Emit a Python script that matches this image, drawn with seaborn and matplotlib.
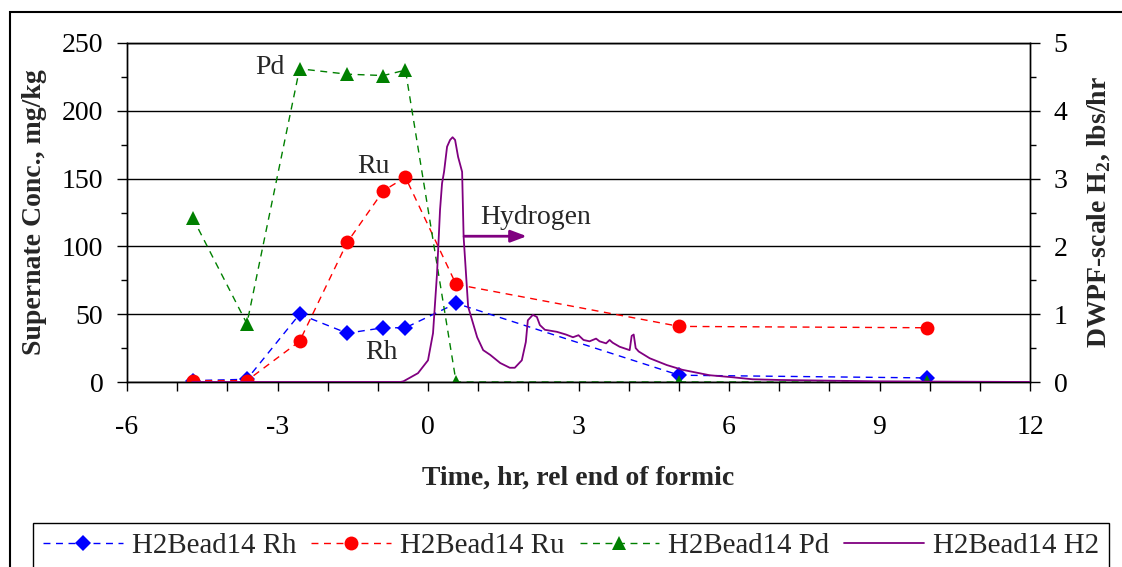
import matplotlib
matplotlib.use("Agg")
import matplotlib.pyplot as plt
from matplotlib.patches import Rectangle
from matplotlib.ticker import MultipleLocator, FuncFormatter
import seaborn as sns
import pandas as pd

# Sample times (hr, relative to end of formic addition)
sample_time = [-4.69, -3.61, -2.56, -1.61, -0.89, -0.45, 0.56, 5.01, 9.94]

# Supernate concentrations, mg/kg
rh_conc = [1, 2, 50, 36, 40, 40, 58, 5, 3]
ru_conc = [1, 1, 30, 103, 141, 151, 72, 41, 40]
pd_conc = [121, 43, 231, 227, 226, 230, 0, 0, 0]

# Off-gas hydrogen generation, lbs/hr
h2_time = [-4.70, -0.55, -0.49, -0.20, 0.00, 0.10, 0.18, 0.24, 0.28, 0.32, 0.38,
           0.44, 0.49, 0.54, 0.60, 0.68, 0.71, 0.80, 0.98, 1.10, 1.24, 1.44, 1.63,
           1.73, 1.87, 1.95, 1.99, 2.09, 2.17, 2.23, 2.33, 2.57, 2.75, 2.89, 3.00,
           3.10, 3.22, 3.35, 3.42, 3.55, 3.62, 3.68, 3.82, 4.02, 4.06, 4.10, 4.14,
           4.20, 4.42, 4.76, 5.07, 5.61, 6.07, 6.47, 7.00, 8.93, 12.0]
h2_rate = [0.0, 0.0, 0.01, 0.13, 0.32, 0.72, 1.60, 2.54, 2.93, 3.10, 3.47,
           3.57, 3.61, 3.57, 3.32, 3.10, 2.14, 1.11, 0.66, 0.47, 0.40, 0.28, 0.21,
           0.21, 0.32, 0.59, 0.91, 0.99, 0.96, 0.84, 0.77, 0.74, 0.70, 0.66, 0.69,
           0.62, 0.60, 0.64, 0.60, 0.57, 0.62, 0.58, 0.52, 0.47, 0.68, 0.70, 0.50,
           0.45, 0.35, 0.25, 0.18, 0.10, 0.07, 0.04, 0.03, 0.01, 0.0]

series_labels = ["H2Bead14 Rh", "H2Bead14 Ru", "H2Bead14 Pd", "H2Bead14 H2"]

sns.set_theme(style="ticks")
plt.rcParams["font.family"] = ["Liberation Serif", "DejaVu Serif"]
plt.rcParams["mathtext.fontset"] = "custom"
plt.rcParams["mathtext.rm"] = "Liberation Serif"
plt.rcParams["mathtext.bf"] = "Liberation Serif:bold"

FS = 20
LEG_FS = 20.8
fig = plt.figure(figsize=(11.22, 5.67), dpi=100)
ax = fig.add_axes([127 / 1122, 1 - 382 / 567, 903 / 1122, 339 / 567])
ax2 = ax.twinx()

conc = pd.DataFrame({"t": sample_time, "Rh": rh_conc, "Ru": ru_conc, "Pd": pd_conc})
h2 = pd.DataFrame({"t": h2_time, "H2": h2_rate})

dash = (5, 4)
sns.lineplot(data=conc, x="t", y="Rh", ax=ax, color="#0000FF", marker="D",
             markersize=8, markeredgewidth=0, linewidth=1, dashes=False,
             linestyle=(0, dash), label=series_labels[0], zorder=3)
sns.lineplot(data=conc, x="t", y="Ru", ax=ax, color="#FF0000", marker="o",
             markersize=10, markeredgewidth=0, linewidth=1, dashes=False,
             linestyle=(0, dash), label=series_labels[1], zorder=3)
sns.lineplot(data=conc, x="t", y="Pd", ax=ax, color="#008000", marker="^",
             markersize=10, markeredgewidth=0, linewidth=1, dashes=False,
             linestyle=(0, dash), label=series_labels[2], zorder=3)
sns.lineplot(data=h2, x="t", y="H2", ax=ax2, color="#800080", linewidth=1.3,
             label=series_labels[3], zorder=3)

handles, labels = ax.get_legend_handles_labels()
h2h, h2l = ax2.get_legend_handles_labels()
handles += h2h
labels += h2l
for a in (ax, ax2):
    if a.get_legend() is not None:
        a.get_legend().remove()

# Axes limits and ticks
ax.set_xlim(-6, 12)
ax.set_ylim(0, 250)
ax2.set_ylim(0, 5)
ax.xaxis.set_major_locator(MultipleLocator(1))
ax.xaxis.set_major_formatter(FuncFormatter(lambda v, p: f"{int(round(v))}" if round(v) % 3 == 0 else ""))
ax.yaxis.set_major_locator(MultipleLocator(50))
ax.yaxis.set_minor_locator(MultipleLocator(25))
ax2.yaxis.set_major_locator(MultipleLocator(1))
ax2.yaxis.set_minor_locator(MultipleLocator(0.5))

ax.grid(axis="y", which="major", color="black", linewidth=1)
ax.set_axisbelow(True)

ax.tick_params(axis="x", which="major", direction="out", length=6.5, width=1,
               labelsize=FS, pad=17, color="black", labelcolor="black")
ax.tick_params(axis="y", which="major", direction="out", length=7, width=1,
               labelsize=FS, pad=10, color="black", labelcolor="black")
ax.tick_params(axis="y", which="minor", direction="out", length=4.5, width=1,
               left=True, color="black")
ax2.tick_params(axis="y", which="major", direction="out", length=7, width=1,
                labelsize=FS, pad=10, color="black", labelcolor="black")
ax2.tick_params(axis="y", which="minor", direction="out", length=4.5, width=1,
                right=True, color="black")

for a in (ax, ax2):
    for s in a.spines.values():
        s.set_color("black")
        s.set_linewidth(1)

ax.set_xlabel("Time, hr, rel end of formic", fontsize=FS, fontweight="bold")
ax.set_ylabel("Supernate Conc., mg/kg", fontsize=FS, fontweight="bold")
ax2.set_ylabel(r"DWPF-scale H$_\mathbf{2}$, lbs/hr", fontsize=FS, fontweight="bold")
ax.xaxis.set_label_coords(0.5, (382 - 478) / 339)
ax.xaxis.label.set_va("center")
ax.yaxis.set_label_coords((35 - 127) / 903, 0.5)
ax.yaxis.label.set_va("center")
ax2.yaxis.set_label_coords((1099 - 127) / 903, 0.5)
ax2.yaxis.label.set_va("center")
ax2.yaxis.label.set_rotation(90)

# Series annotations
ax.text(-3.15, 231.6, "Pd", fontsize=FS, ha="center", va="center")
ax.text(-1.09, 158.6, "Ru", fontsize=FS, ha="center", va="center")
ax.text(-0.92, 22, "Rh", fontsize=FS, ha="center", va="center")
ax2.annotate("", xy=(1.97, 2.15), xytext=(0.72, 2.15),
             arrowprops=dict(arrowstyle="-|>,head_length=0.8,head_width=0.3",
                             color="#800080", lw=2, shrinkA=0, shrinkB=0))
ax2.text(1.05, 2.42, "Hydrogen", fontsize=FS, ha="left", va="center")

# Legend along the bottom
leg = fig.legend(handles, labels, loc="upper left",
                 bbox_to_anchor=(33 / 1122, 1 - 523 / 567),
                 ncol=4, fontsize=LEG_FS, frameon=True, fancybox=False,
                 edgecolor="black", framealpha=1, borderaxespad=0, numpoints=1,
                 handlelength=2.75, handletextpad=0.32, columnspacing=0.52,
                 borderpad=0.35)
leg.get_frame().set_linewidth(1)

# Outer chart frame
fig.patches.append(Rectangle((10 / 1122, -0.1), 1.2, 1.1 - 12 / 567,
                             transform=fig.transFigure, fill=False,
                             edgecolor="black", linewidth=1.5, zorder=0))

fig.savefig("out.png", dpi=100)
